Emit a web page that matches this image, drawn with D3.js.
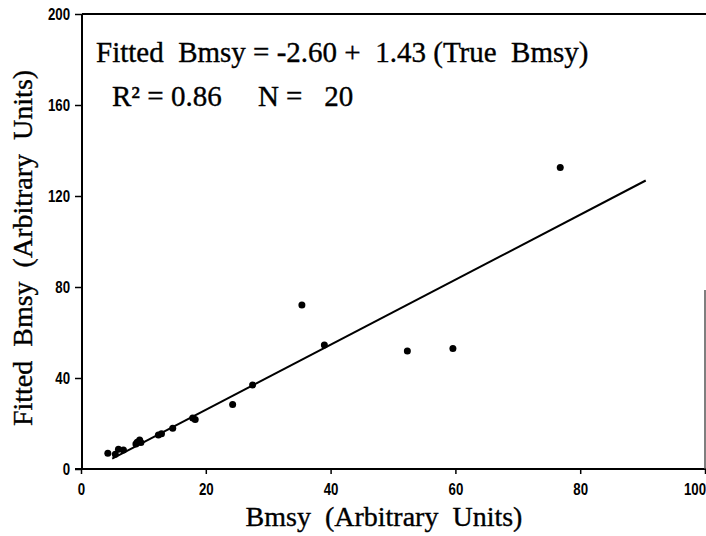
<!DOCTYPE html>
<html>
<head>
<meta charset="utf-8">
<script src="https://cdn.jsdelivr.net/npm/d3@7"></script>
<style>
  body { margin: 0; background: #fff; }
  .serif { font-family: "Liberation Serif", "Times New Roman", serif; fill: #000; stroke: #000; stroke-width: 0.35; }
</style>
</head>
<body>
<svg id="chart" width="706" height="536"></svg>
<script>
// true vs fitted Bmsy
const trueBmsy   = [4.3, 5.5, 6.0, 6.8, 8.8, 9.0, 9.4, 9.6, 12.4, 12.9, 14.7, 17.9, 18.3, 24.3, 27.5, 35.4, 39.0, 52.3, 59.6, 76.8];
const fittedBmsy = [6.9, 6.5, 8.7, 8.4, 11.0, 11.8, 12.7, 11.6, 14.9, 15.5, 17.9, 22.4, 21.8, 28.4, 36.9, 72.1, 54.5, 51.9, 53.0, 132.5];
const xTicks = [0, 20, 40, 60, 80, 100];
const yTicks = [0, 40, 80, 120, 160, 200];
const intercept = -2.60, slope = 1.43;
const fitRange = [5, 90.5];

const svg = d3.select("#chart");

// plot area (pixels)
const plotLeft = 82, plotRight = 705, plotTop = 14, plotBottom = 469;
const squeeze = 0.78; // tick labels in the scan use a narrow font

let x = d3.scaleLinear().domain([0, 100]).range([81, 705]);
let y = d3.scaleLinear().domain([0, 200]).range([plotBottom, plotTop]);

function tickFont(g) {
  g.selectAll(".tick text")
    .style("font-family", "'Liberation Sans', Arial, sans-serif")
    .style("font-weight", "bold")
    .style("font-size", "17px")
    .attr("fill", "#000");
}

// x axis
svg.append("g")
  .attr("transform", "translate(0," + plotBottom + ")")
  .call(d3.axisBottom(x).tickValues(xTicks).tickSize(5).tickPadding(9))
  .call(g => g.select(".domain").remove())
  .call(g => g.selectAll(".tick line").attr("stroke-width", 1.5))
  .call(tickFont)
  .call(g => g.selectAll(".tick text").attr("transform", "scale(" + squeeze + ",1)"))
  .call(g => g.selectAll(".tick text").filter(d => d === 100)
    .attr("text-anchor", "end").attr("x", 0.5 / squeeze));

// y axis
svg.append("g")
  .attr("transform", "translate(" + plotLeft + ",0)")
  .call(d3.axisLeft(y).tickValues(yTicks).tickSize(7).tickPadding(5))
  .call(g => g.select(".domain").remove())
  .call(g => g.selectAll(".tick line").attr("stroke-width", 1.5))
  .call(tickFont)
  .call(g => g.selectAll(".tick text").attr("x", -12 / squeeze).attr("transform", "scale(" + squeeze + ",1)"));

// frame
svg.append("line").attr("x1", plotLeft).attr("x2", plotLeft).attr("y1", plotTop).attr("y2", plotBottom)
  .attr("stroke", "#000").attr("stroke-width", 2);
svg.append("line").attr("x1", plotLeft - 7).attr("x2", plotRight + 1).attr("y1", plotBottom).attr("y2", plotBottom)
  .attr("stroke", "#000").attr("stroke-width", 2);
svg.append("line").attr("x1", plotLeft).attr("x2", plotRight + 1).attr("y1", plotTop).attr("y2", plotTop)
  .attr("stroke", "#000").attr("stroke-width", 2);
// right edge only survives on the lower part of the scan
svg.append("line").attr("x1", plotRight).attr("x2", plotRight).attr("y1", 290).attr("y2", plotBottom)
  .attr("stroke", "#555").attr("stroke-width", 1.5);

// regression line
svg.append("line")
  .attr("x1", x(fitRange[0])).attr("y1", y(intercept + slope * fitRange[0]))
  .attr("x2", x(fitRange[1])).attr("y2", y(intercept + slope * fitRange[1]))
  .attr("stroke", "#000").attr("stroke-width", 2);

// points
svg.append("g")
  .selectAll("circle")
  .data(trueBmsy)
  .enter()
  .append("circle")
  .attr("cx", (d) => x(d))
  .attr("cy", (d, i) => y(fittedBmsy[i]))
  .attr("r", 3.5)
  .attr("fill", "#000");

// annotations
svg.append("text").attr("class", "serif")
  .attr("x", 96).attr("y", 62)
  .attr("font-size", 29)
  .attr("xml:space", "preserve")
  .text("Fitted  Bmsy = -2.60 +  1.43 (True  Bmsy)");

svg.append("text").attr("class", "serif")
  .attr("x", 112).attr("y", 106)
  .attr("font-size", 29)
  .attr("xml:space", "preserve")
  .text("R\u00B2 = 0.86     N =   20");

// axis titles
svg.append("text").attr("class", "serif")
  .attr("x", 384).attr("y", 526)
  .attr("text-anchor", "middle")
  .attr("font-size", 28)
  .attr("xml:space", "preserve")
  .text("Bmsy  (Arbitrary  Units)");

svg.append("text").attr("class", "serif")
  .attr("transform", "translate(32,248) rotate(-90)")
  .attr("text-anchor", "middle")
  .attr("font-size", 28)
  .attr("xml:space", "preserve")
  .text("Fitted  Bmsy  (Arbitrary  Units)");
</script>
</body>
</html>
